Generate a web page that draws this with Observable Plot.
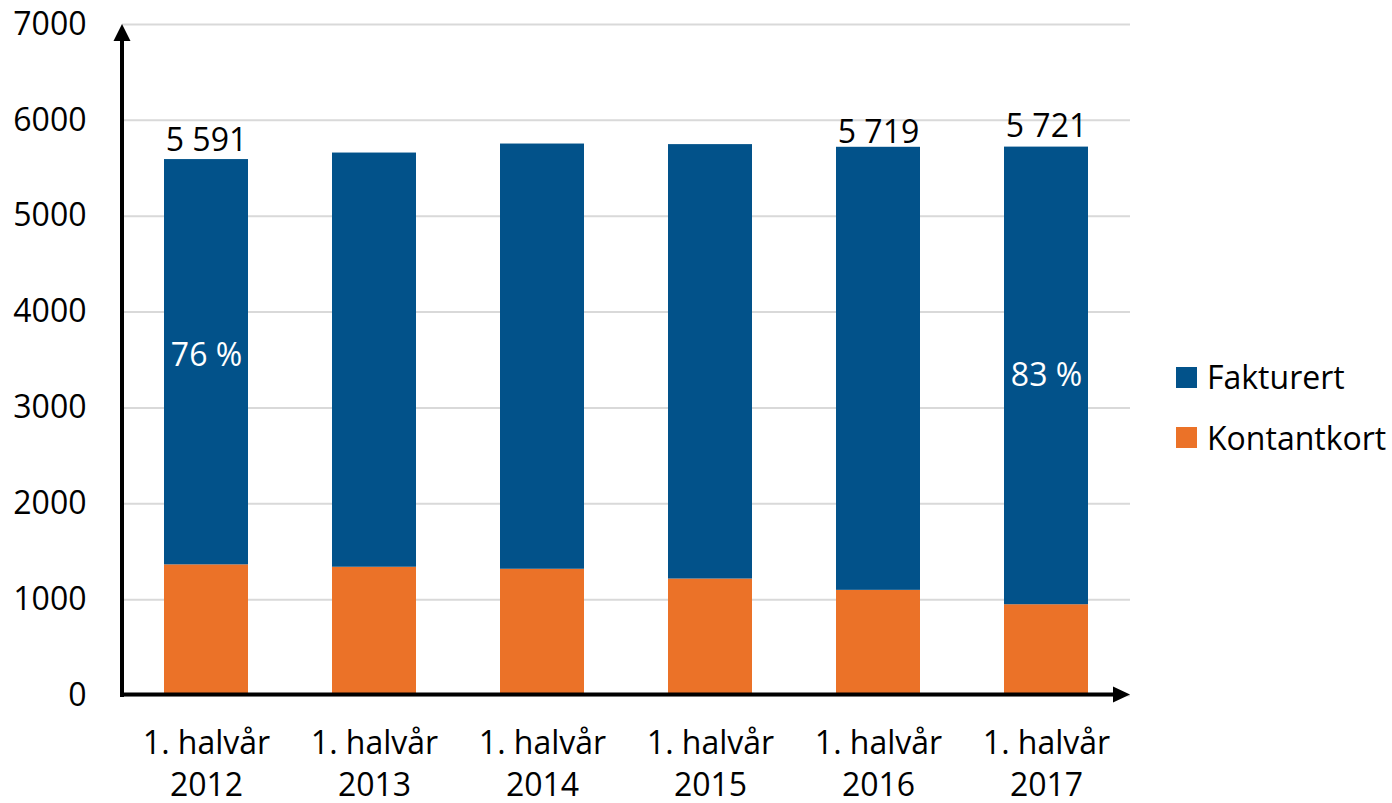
<!DOCTYPE html>
<html><head><meta charset="utf-8">
<script src="https://cdn.jsdelivr.net/npm/d3@7"></script>
<script src="https://cdn.jsdelivr.net/npm/@observablehq/plot@0.6"></script>
<style>
body{margin:0;background:#fff;font-family:"Open Sans",sans-serif;}
#wrap{position:relative;width:1392px;height:803px;overflow:hidden;}
#legend{position:absolute;left:1176px;top:361px;font-size:32px;color:#000;line-height:32px;}
.item{display:flex;align-items:center;height:32px;margin-bottom:28.5px;white-space:nowrap;}
.sw{width:21px;height:21px;margin-right:10px;flex:none;}
</style></head><body>
<div id="wrap"><div id="chart"></div><div id="legend"></div></div>
<script>
const categories = ["1. halvår 2012", "1. halvår 2013", "1. halvår 2014", "1. halvår 2015", "1. halvår 2016", "1. halvår 2017"];
const seriesNames = ["Fakturert", "Kontantkort"];
const fakturert = [4228, 4321, 4436, 4532, 4622, 4774];
const kontantkort = [1363, 1338, 1317, 1215, 1097, 947];
const seriesColors = ["#02528a", "#eb7228"];
const yTicks = [0, 1000, 2000, 3000, 4000, 5000, 6000, 7000];
const totalLabelCats = ["1. halvår 2012", "1. halvår 2016", "1. halvår 2017"];
const totalLabelTexts = ["5 591", "5 719", "5 721"];
const pctLabelCats = ["1. halvår 2012", "1. halvår 2017"];
const pctLabelTexts = ["76 %", "83 %"];

const rows = categories.flatMap((c, i) => [
  {cat: c, series: "Kontantkort", value: kontantkort[i]},
  {cat: c, series: "Fakturert", value: fakturert[i]}
]);
const idx = c => categories.indexOf(c);

const totalDy = [-9, -4, -10];
const totalMarks = totalLabelCats.map((c, k) => Plot.text([{cat: c, y: fakturert[idx(c)] + kontantkort[idx(c)], t: totalLabelTexts[k]}], {
  x: "cat", y: "y", text: "t", lineAnchor: "bottom", dy: totalDy[k], fontSize: 32, fill: "#000"
}));
const pctDy = [-6, 0];
const pctMarks = pctLabelCats.map((c, k) => Plot.text([{cat: c, y: kontantkort[idx(c)] + fakturert[idx(c)] / 2, t: pctLabelTexts[k]}], {
  x: "cat", y: "y", text: "t", dy: pctDy[k], fontSize: 32, fill: "#fff"
}));

function axisArrows(index, scales, values, dimensions, context) {
  const {width, height, marginLeft, marginRight, marginTop} = dimensions;
  const x0 = marginLeft, x1 = width - marginRight, y1 = marginTop;
  const yb = scales.y(0) - 0.5;
  const g = d3.select(context.document.createElementNS("http://www.w3.org/2000/svg", "g"));
  g.append("line").attr("x1", x0).attr("x2", x0).attr("y1", yb + 2.5).attr("y2", y1 + 14)
    .attr("stroke", "#000").attr("stroke-width", 4);
  g.append("polygon").attr("points", `${x0},${y1} ${x0 - 8.5},${y1 + 17} ${x0 + 8.5},${y1 + 17}`).attr("fill", "#000");
  g.append("line").attr("x1", x0 - 2).attr("x2", x1 - 14).attr("y1", yb).attr("y2", yb)
    .attr("stroke", "#000").attr("stroke-width", 4);
  g.append("polygon").attr("points", `${x1},${yb} ${x1 - 17},${yb - 8} ${x1 - 17},${yb + 8}`).attr("fill", "#000");
  return g.node();
}

const chart = Plot.plot({
  width: 1392,
  height: 803,
  marginLeft: 122,
  marginRight: 262,
  marginTop: 24,
  marginBottom: 108,
  style: {fontFamily: "'Open Sans', sans-serif", fontSize: "32px", color: "#000", background: "#fff"},
  x: {domain: categories, paddingInner: 0.5, paddingOuter: 0.25},
  y: {domain: [0, 7000]},
  color: {domain: seriesNames, range: seriesColors},
  marks: [
    Plot.gridY(yTicks, {stroke: "#d9d9d9", strokeOpacity: 1, strokeWidth: 2}),
    Plot.barY(rows, {x: "cat", y: "value", fill: "series", inset: 0}),
    Plot.axisY(yTicks, {tickSize: 0, tickPadding: 36, fontSize: 32, tickFormat: d => String(d), label: null}),
    Plot.axisX({tickSize: 0, tickPadding: 28, fontSize: 32, lineHeight: 1.33, label: null,
      tickFormat: d => d.replace(/ (\d{4})$/, "\n$1")}),
    ...totalMarks,
    ...pctMarks,
    axisArrows
  ]
});
document.getElementById("chart").appendChild(chart);

const legend = document.getElementById("legend");
seriesNames.forEach((s, i) => {
  const item = document.createElement("div");
  item.className = "item";
  const sw = document.createElement("div");
  sw.className = "sw";
  sw.style.background = seriesColors[i];
  const t = document.createElement("span");
  t.textContent = s;
  item.appendChild(sw);
  item.appendChild(t);
  legend.appendChild(item);
});
</script>
</body></html>
